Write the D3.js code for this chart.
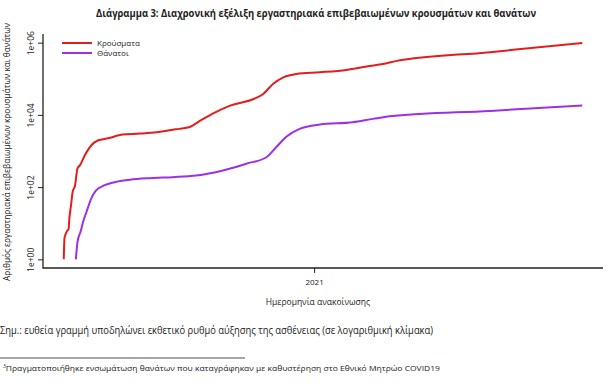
<!DOCTYPE html>
<html>
<head>
<meta charset="utf-8">
<script src="https://cdn.jsdelivr.net/npm/d3@7"></script>
<style>
  body { margin: 0; background: #fff; }
  text { font-family: "Open Sans", "Noto Sans", sans-serif; fill: #222; }
</style>
</head>
<body>
<div id="chart"></div>
<script>
// values (log scale, so read roughly)
const casesDates = ["2020-02-26","2020-02-27","2020-03-01","2020-03-03","2020-03-04","2020-03-06","2020-03-08","2020-03-11","2020-03-14","2020-03-17","2020-03-23","2020-03-31","2020-04-08","2020-04-21","2020-05-09","2020-05-30","2020-06-20","2020-07-10","2020-07-18","2020-07-31","2020-08-12","2020-08-29","2020-09-19","2020-10-18","2020-10-30","2020-11-11","2020-11-24","2020-12-10","2021-01-08","2021-02-10","2021-03-07","2021-04-01","2021-04-12","2021-08-07","2021-11-29"]
const casesValues = [1, 4, 6, 7, 14, 31, 73, 111, 330, 400, 755, 1420, 1950, 2250, 2860, 3030, 3300, 3900, 4100, 4600, 6700, 11000, 18100, 27600, 38000, 72000, 110000, 136000, 151000, 176000, 218000, 268000, 308000, 546000, 985000]

const deathsDates = ["2020-03-12","2020-03-14","2020-03-18","2020-03-21","2020-03-25","2020-03-31","2020-04-06","2020-04-16","2020-04-29","2020-05-18","2020-06-12","2020-07-10","2020-08-08","2020-09-10","2020-10-09","2020-11-03","2020-11-15","2020-11-28","2020-12-14","2021-01-08","2021-02-18","2021-03-15","2021-04-08","2021-08-07","2021-11-29"]
const deathsValues = [1, 3, 6, 11, 20, 48, 81, 111, 137, 160, 177, 189, 210, 290, 445, 670, 1270, 2510, 4100, 5400, 6250, 7750, 9270, 12900, 18100]

const seriesNames = ["Κρούσματα", "Θάνατοι"]
const seriesColors = ["#e31d1d", "#9b30e6"]

const yTicks = [1, 100, 10000, 1000000]
const yTickLabels = ["1e+00", "1e+02", "1e+04", "1e+06"]
const xTicks = ["2021-01-01"]
const xTickLabels = ["2021"]

const title = "Διάγραμμα 3: Διαχρονική εξέλιξη εργαστηριακά επιβεβαιωμένων κρουσμάτων και θανάτων"
const yTitle = "Αριθμός εργαστηριακά επιβεβαιωμένων κρουσμάτων και θανάτων"
const xTitle = "Ημερομηνία ανακοίνωσης"
const note = "Σημ.: ευθεία γραμμή υποδηλώνει εκθετικό ρυθμό αύξησης της ασθένειας (σε λογαριθμική κλίμακα)"
const footnote = "Πραγματοποιήθηκε ενσωμάτωση θανάτων που καταγράφηκαν με καθυστέρηση στο Εθνικό Μητρώο COVID19"

const W = 616, H = 392
const parse = d3.timeParse("%Y-%m-%d")

// plot box (R style: data range padded by 4%)
const box = {left: 43, right: 603, top: 34, bottom: 268}
const padX = (box.right - box.left) * 0.04 / 1.08
const padY = (box.bottom - box.top) * 0.04 / 1.08

const svg = d3.select("#chart").append("svg")
    .attr("width", W)
    .attr("height", H)

const cases = casesDates.map((d, i) => ({date: parse(d), value: casesValues[i]}))
const deaths = deathsDates.map((d, i) => ({date: parse(d), value: deathsValues[i]}))

const x = d3.scaleTime()
    .domain(d3.extent(cases.concat(deaths), d => d.date))
    .range([box.left + padX, box.right - padX])

const y = d3.scaleLog()
    .domain([1, 1000000])
    .range([box.bottom - padY, box.top + padY])

// L shaped frame
svg.append("path")
    .attr("d", `M${box.left},${box.top}V${box.bottom}H${box.right}`)
    .attr("fill", "none")
    .attr("stroke", "#222")
    .attr("stroke-width", 1.3)

// Y axis
const yAxis = svg.append("g")
    .attr("transform", `translate(${box.left},0)`)
    .call(d3.axisLeft(y).tickValues(yTicks).tickSize(5).tickFormat((d, i) => yTickLabels[i]))
yAxis.select(".domain").remove()
yAxis.selectAll(".tick line").attr("stroke", "#222")
yAxis.selectAll(".tick text")
    .attr("transform", "rotate(-90)")
    .attr("x", 0)
    .attr("y", -9)
    .attr("dy", 0)
    .attr("text-anchor", "middle")
    .style("font-size", "8.5px")
    .style("fill", "#222")

// X axis
const xAxis = svg.append("g")
    .attr("transform", `translate(0,${box.bottom})`)
    .call(d3.axisBottom(x).tickValues(xTicks.map(parse)).tickSize(5).tickFormat((d, i) => xTickLabels[i]))
xAxis.select(".domain").remove()
xAxis.selectAll(".tick line").attr("stroke", "#222")
xAxis.selectAll(".tick text")
    .attr("y", 11)
    .style("font-size", "8px")
    .style("fill", "#222")

// lines
const line = d3.line()
    .x(d => x(d.date))
    .y(d => y(d.value))
    .curve(d3.curveMonotoneX)

svg.selectAll(".series")
    .data([cases, deaths])
    .join("path")
    .attr("class", "series")
    .attr("d", line)
    .attr("fill", "none")
    .attr("stroke", (d, i) => seriesColors[i])
    .attr("stroke-width", 2)
    .attr("stroke-linejoin", "round")

// legend
const legend = svg.selectAll(".legend")
    .data(seriesNames)
    .join("g")
    .attr("class", "legend")
    .attr("transform", (d, i) => `translate(62,${43 + i * 10})`)
legend.append("line")
    .attr("x1", 0).attr("x2", 30)
    .attr("stroke", (d, i) => seriesColors[i])
    .attr("stroke-width", 2)
legend.append("text")
    .attr("x", 35)
    .attr("dy", "0.33em")
    .style("font-size", "8px")
    .text(d => d)

// titles and notes
svg.append("text")
    .attr("x", 316).attr("y", 17)
    .attr("text-anchor", "middle")
    .attr("textLength", 440)
    .attr("lengthAdjust", "spacingAndGlyphs")
    .style("font-size", "10.5px")
    .style("font-weight", "bold")
    .text(title)

svg.append("text")
    .attr("transform", "translate(10,152) rotate(-90)")
    .attr("text-anchor", "middle")
    .attr("textLength", 258)
    .attr("lengthAdjust", "spacingAndGlyphs")
    .style("font-size", "9px")
    .text(yTitle)

svg.append("text")
    .attr("x", 318).attr("y", 305)
    .attr("text-anchor", "middle")
    .style("font-size", "8.5px")
    .text(xTitle)

svg.append("text")
    .attr("x", 0).attr("y", 334)
    .attr("textLength", 433)
    .attr("lengthAdjust", "spacingAndGlyphs")
    .style("font-size", "10px")
    .text(note)

svg.append("line")
    .attr("x1", 0).attr("x2", 245)
    .attr("y1", 358).attr("y2", 358)
    .attr("stroke", "#222")
    .attr("stroke-width", 0.8)

const fn = svg.append("text")
    .attr("x", 3).attr("y", 371)
    .style("font-size", "7.5px")
fn.append("tspan")
    .attr("dy", -3)
    .style("font-size", "5px")
    .text("3")
fn.append("tspan")
    .attr("dy", 3)
    .attr("textLength", 434)
    .attr("lengthAdjust", "spacingAndGlyphs")
    .text(footnote)
</script>
</body>
</html>
